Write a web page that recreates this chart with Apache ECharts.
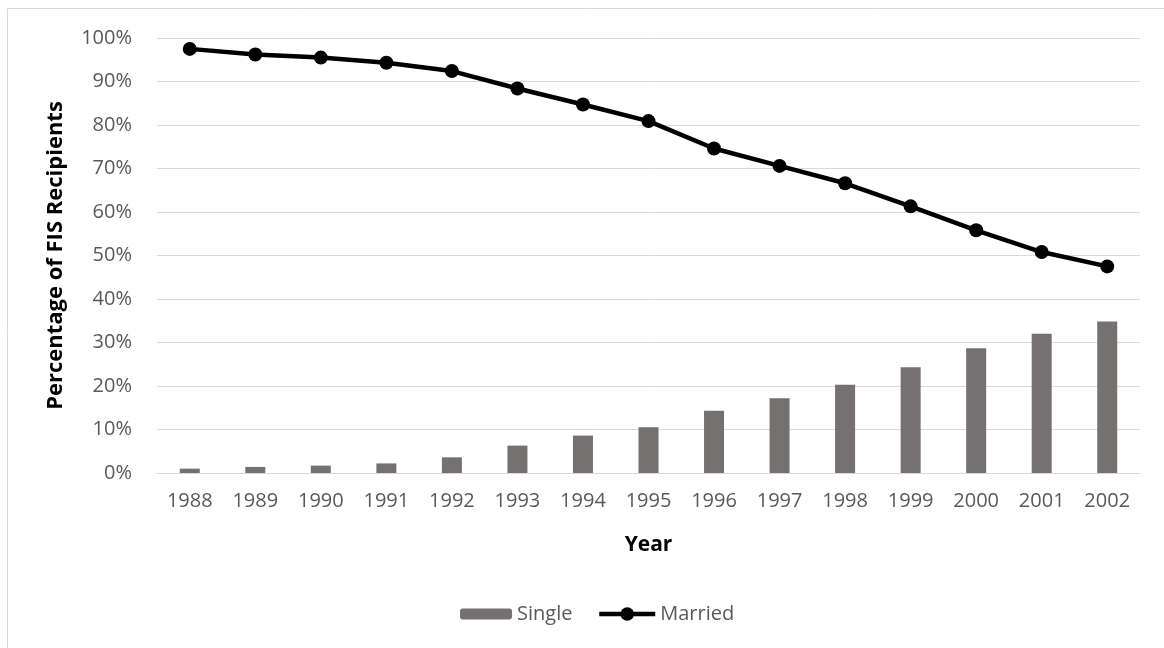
<!DOCTYPE html>
<html>
<head>
<meta charset="utf-8">
<script src="https://cdn.jsdelivr.net/npm/echarts@6/dist/echarts.min.js"></script>
<style>
html,body{margin:0;padding:0;background:#fff;}
#chart{width:1164px;height:648px;}
</style>
</head>
<body>
<div id="chart"></div>
<script>
var years = ['1988','1989','1990','1991','1992','1993','1994','1995','1996','1997','1998','1999','2000','2001','2002'];
var single = [1.0, 1.4, 1.7, 2.2, 3.6, 6.3, 8.6, 10.5, 14.3, 17.2, 20.3, 24.3, 28.7, 32.0, 34.8];
var married = [97.5, 96.2, 95.5, 94.3, 92.4, 88.4, 84.7, 80.9, 74.6, 70.6, 66.6, 61.3, 55.8, 50.8, 47.5];

var FONT = "'Open Sans', sans-serif";
var chart = echarts.init(document.getElementById('chart'), null, {renderer:'canvas'});
chart.setOption({
  animation: false,
  backgroundColor: '#ffffff',
  textStyle: {fontFamily: FONT},
  graphic: [{
    type: 'rect', silent: true,
    shape: {x: 7.5, y: 8.5, width: 1200, height: 700},
    style: {fill: 'none', stroke: '#d9d9d9', lineWidth: 1}
  }],
  grid: {left: 157, right: 24, top: 38, height: 435, containLabel: false},
  legend: [{
    data: ['Single'],
    left: 455, top: 599,
    itemWidth: 52, itemHeight: 11,
    textStyle: {fontFamily: FONT, fontSize: 20, color: '#595959'}
  }, {
    data: ['Married'],
    left: 592, top: 599,
    itemWidth: 56, itemHeight: 17,
    lineStyle: {width: 4.5, color: '#000'},
    itemStyle: {color: '#000'},
    textStyle: {fontFamily: FONT, fontSize: 20, color: '#595959'}
  }],
  xAxis: {
    type: 'category', data: years,
    name: 'Year', nameLocation: 'middle', nameGap: 62,
    nameTextStyle: {fontFamily: FONT, fontSize: 21, fontWeight: 'bold', color: '#000'},
    axisLine: {lineStyle: {color: '#d9d9d9', width: 1}},
    axisTick: {show: false},
    axisLabel: {fontFamily: FONT, fontSize: 20, color: '#595959', margin: 18}
  },
  yAxis: {
    type: 'value', min: 0, max: 100, interval: 10,
    name: 'Percentage of FIS Recipients', nameLocation: 'middle', nameGap: 90,
    nameTextStyle: {fontFamily: FONT, fontSize: 22, fontWeight: 'bold', color: '#000'},
    axisLine: {show: false}, axisTick: {show: false},
    splitLine: {lineStyle: {color: '#d9d9d9', width: 1}},
    axisLabel: {fontFamily: FONT, fontSize: 20, color: '#595959', margin: 25, formatter: '{value}%'}
  },
  series: [{
    name: 'Single', type: 'bar', data: single, barWidth: 20,
    itemStyle: {color: '#767171'}
  }, {
    name: 'Married', type: 'line', data: married,
    symbol: 'circle', symbolSize: 14,
    lineStyle: {color: '#000', width: 4.5},
    itemStyle: {color: '#000'}
  }]
});
</script>
</body>
</html>
